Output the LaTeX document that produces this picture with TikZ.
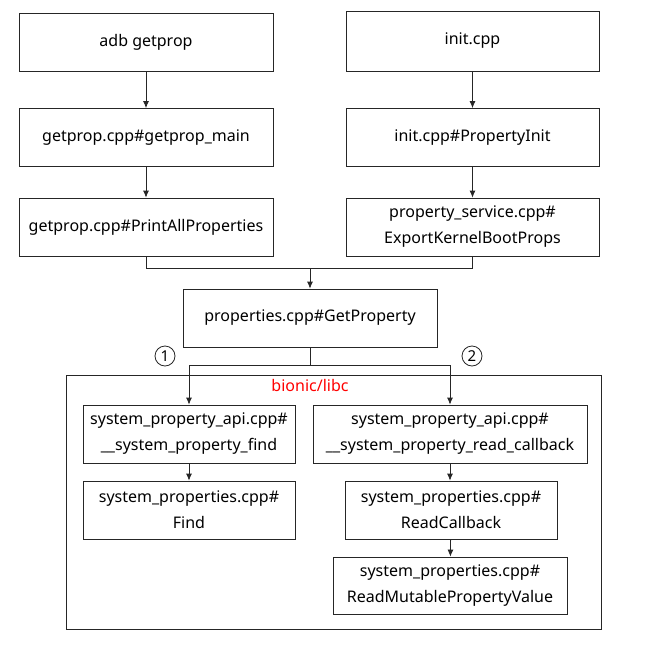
\documentclass[tikz,border=0pt]{standalone}
\usepackage{fontspec}
\setmainfont{Noto Sans}
\usetikzlibrary{positioning,shapes,arrows.meta,calc}

\begin{document}
\begin{tikzpicture}
  [
      x=1pt, y=-1pt,
      >={Latex[length=7pt,width=6pt]},
      line/.style={line width=0.8pt, draw=black!85},
      box/.style={rectangle, line, align=center, font=\fontsize{16}{26}\selectfont, minimum width=#1, minimum height=58pt, inner sep=0pt},
      num/.style={circle, line, minimum size=20pt, inner sep=0pt, font=\fontsize{15}{16}\selectfont},
    ]
    \useasboundingbox (0,0) rectangle (662,646);

    % left column
    \node (adb)  [box=254pt] at (146,42.5) {adb getprop};
    \node (main) [box=254pt] at (146,137.5) {getprop.cpp\#getprop\_main};
    \node (printall) [box=254pt] at (146,227) {getprop.cpp\#PrintAllProperties};

    % right column
    \node (init) [box=253pt, minimum height=60pt] at (472.5,41) {init.cpp};
    \node (propinit) [box=253pt] at (472.5,137.5) {init.cpp\#PropertyInit};
    \node (export) [box=253pt] at (472.5,227) {property\_service.cpp\#\\ExportKernelBootProps};

    \node (getprop) [box=254pt] at (310,318) {properties.cpp\#GetProperty};

    % bionic/libc
    \node (libc) [rectangle, line, minimum width=535pt, minimum height=254pt] at (333.5,502) {};
    \node (libcname) [text=red, font=\fontsize{16}{18}\selectfont] at (310,385) {bionic/libc};

    \node (findapi) [box=212pt] at (189,434) {system\_property\_api.cpp\#\\\_\_system\_property\_find};
    \node (readapi) [box=274pt] at (450,434) {system\_property\_api.cpp\#\\\_\_system\_property\_read\_callback};
    \node (find) [box=212pt] at (189,510) {system\_properties.cpp\#\\Find};
    \node (readcb) [box=212pt] at (451,510) {system\_properties.cpp\#\\ReadCallback};
    \node (readmut) [box=234pt, minimum height=57pt] at (450,585.5) {system\_properties.cpp\#\\ReadMutablePropertyValue};

    \node (one) [num] at (165,356) {1};
    \node (two) [num] at (472,356) {2};

    \draw [line, ->] (adb) -- (main);
    \draw [line, ->] (main) -- (printall);
    \draw [line, ->] (init) -- (propinit);
    \draw [line, ->] (propinit) -- (export);

    \coordinate (join) at (310,268);
    \draw [line] (printall.south) |- (join);
    \draw [line] (export.south) |- (join);
    \draw [line, ->] (join) -- (getprop.north);

    \coordinate (split) at (310,365);
    \draw [line] (getprop.south) -- (split);
    \draw [line, ->] (split) -| (findapi.north);
    \draw [line, ->] (split) -| (readapi.north);

    \draw [line, ->] (findapi) -- (find);
    \draw [line, ->] (readapi.south) -- (readapi.south |- readcb.north);
    \draw [line, ->] (readcb) -- (readmut);

  \end{tikzpicture}
\end{document}
